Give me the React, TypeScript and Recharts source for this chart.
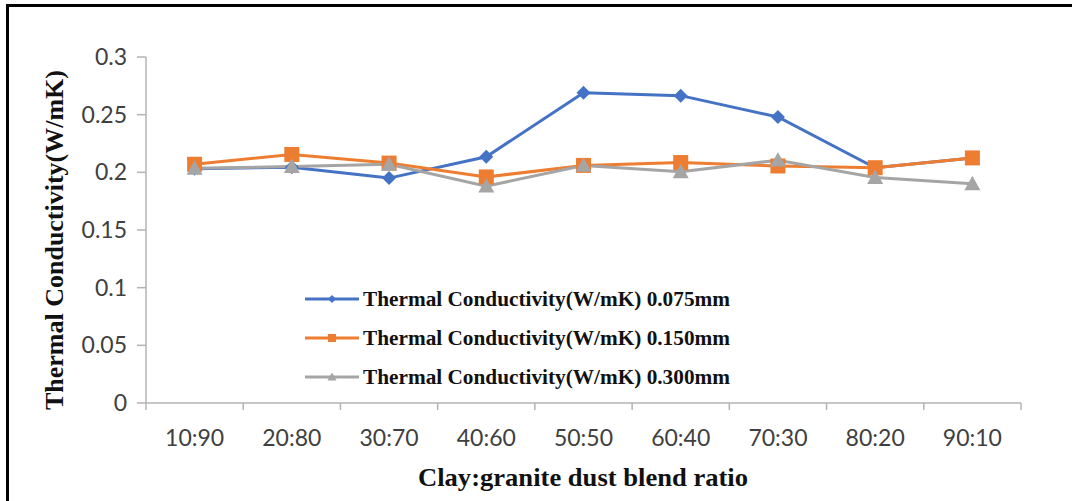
import React from 'react'
import { LineChart, Line, XAxis, YAxis, Legend, Label } from 'recharts'

const categories = ['10:90', '20:80', '30:70', '40:60', '50:50', '60:40', '70:30', '80:20', '90:10']
const tc075 = [0.203, 0.2045, 0.195, 0.2135, 0.269, 0.2665, 0.248, 0.204, 0.2125]
const tc150 = [0.207, 0.2155, 0.208, 0.196, 0.206, 0.2085, 0.2055, 0.204, 0.2125]
const tc300 = [0.2035, 0.205, 0.207, 0.188, 0.206, 0.2005, 0.2105, 0.1955, 0.19]
const seriesNames = [
  'Thermal Conductivity(W/mK) 0.075mm',
  'Thermal Conductivity(W/mK) 0.150mm',
  'Thermal Conductivity(W/mK) 0.300mm',
]
const yTicks = [0, 0.05, 0.1, 0.15, 0.2, 0.25, 0.3]

const BLUE = '#4472C4'
const ORANGE = '#ED7D31'
const GRAY = '#A5A5A5'
const AXIS = '#B3B3B3'
const SERIF = '"Liberation Serif", "Times New Roman", serif'
const SANS = 'Lato, "Open Sans", sans-serif'

// x sits in the middle of each category band, ticks go on the band edges
const data = categories.map((c, i) => ({
  cat: c,
  pos: i + 0.5,
  a: tc075[i],
  b: tc150[i],
  c: tc300[i],
}))
const xTicks = Array.from({ length: categories.length * 2 + 1 }, (_, i) => i / 2)

const Diamond = ({ cx, cy, r, fill }: any) => (
  <path d={`M${cx},${cy - r} L${cx + r},${cy} L${cx},${cy + r} L${cx - r},${cy} Z`} fill={fill} />
)
const Square = ({ cx, cy, r, fill }: any) => (
  <rect x={cx - r} y={cy - r} width={r * 2} height={r * 2} fill={fill} />
)
const Triangle = ({ cx, cy, r, fill }: any) => (
  <path d={`M${cx},${cy - r} L${cx + r},${cy + r * 0.8} L${cx - r},${cy + r * 0.8} Z`} fill={fill} />
)

const XTick = (props: any) => {
  const { x, y, payload } = props
  const v = payload.value
  if (Number.isInteger(v)) {
    return <line x1={x} x2={x} y1={y - 7} y2={y} stroke={AXIS} strokeWidth={1.5} />
  }
  return (
    <text x={x} y={y + 27} textAnchor="middle" dominantBaseline="central"
      fontFamily={SANS} fontSize={23} fill="#404040">
      {categories[Math.floor(v)]}
    </text>
  )
}

const legendItems = [
  { name: seriesNames[0], color: BLUE, Shape: Diamond, r: 4 },
  { name: seriesNames[1], color: ORANGE, Shape: Square, r: 4 },
  { name: seriesNames[2], color: GRAY, Shape: Triangle, r: 4.5 },
]

const LegendBox = () => (
  <div>
    {legendItems.map((it) => (
      <div key={it.name} style={{ display: 'flex', alignItems: 'center', height: 39 }}>
        <svg width={60} height={20}>
          <line x1={2} x2={56} y1={10} y2={10} stroke={it.color} strokeWidth={3} />
          <it.Shape cx={29} cy={10} r={it.r} fill={it.color} />
        </svg>
        <svg width={380} height={30}>
          <text x={0} y={15} dominantBaseline="central" fontFamily={SERIF} fontWeight="bold"
            fontSize={20} fill="#111" textLength={367} lengthAdjust="spacingAndGlyphs">
            {it.name}
          </text>
        </svg>
      </div>
    ))}
  </div>
)

export default function App() {
  return (
    <div style={{ position: 'absolute', left: 0, top: 0, width: 1072, height: 501, background: '#fff' }}>
      <div style={{ position: 'absolute', left: 6, top: 4, right: 0, bottom: 0,
        borderLeft: '3px solid #000', borderTop: '3px solid #000' }} />
      <div style={{ position: 'absolute', left: 0, top: 0 }}>
        <LineChart width={1072} height={501} data={data}
          margin={{ top: 57, right: 51, bottom: 0, left: 0 }}>
          <XAxis dataKey="pos" type="number" domain={[0, categories.length]} ticks={xTicks}
            interval={0} height={98} tickLine={false} tickSize={7} tickMargin={0}
            axisLine={{ stroke: AXIS, strokeWidth: 1.5 }} tick={<XTick />}>
            <Label content={() => (
              <text x={583} y={477} textAnchor="middle" dominantBaseline="central"
                fontFamily={SERIF} fontWeight="bold" fontSize={25} fill="#111"
                textLength={330} lengthAdjust="spacingAndGlyphs">
                Clay:granite dust blend ratio
              </text>
            )} />
          </XAxis>
          <YAxis type="number" domain={[0, 0.3]} ticks={yTicks} width={146} interval={0}
            tickSize={9} tickMargin={10} tickLine={{ stroke: AXIS, strokeWidth: 1.5 }}
            axisLine={{ stroke: AXIS, strokeWidth: 1.5 }}
            tickFormatter={(v: number) => String(+v.toFixed(2))}
            tick={{ fontFamily: SANS, fontSize: 23, fill: '#404040' }}>
            <Label content={() => (
              <text x={54} y={240} textAnchor="middle" dominantBaseline="central"
                transform="rotate(-90, 54, 240)" fontFamily={SERIF} fontWeight="bold"
                fontSize={25} fill="#111" textLength={340} lengthAdjust="spacingAndGlyphs">
                Thermal Conductivity(W/mK)
              </text>
            )} />
          </YAxis>
          <Legend content={<LegendBox />} layout="vertical" align="center" verticalAlign="middle"
            wrapperStyle={{ position: 'absolute', left: 303, top: 279, width: 460, bottom: 'auto' }} />
          <Line dataKey="a" name={seriesNames[0]} stroke={BLUE} strokeWidth={3}
            isAnimationActive={false}
            dot={(p: any) => <Diamond key={p.index} cx={p.cx} cy={p.cy} r={7} fill={BLUE} />} />
          <Line dataKey="b" name={seriesNames[1]} stroke={ORANGE} strokeWidth={3}
            isAnimationActive={false}
            dot={(p: any) => <Square key={p.index} cx={p.cx} cy={p.cy} r={7.5} fill={ORANGE} />} />
          <Line dataKey="c" name={seriesNames[2]} stroke={GRAY} strokeWidth={3}
            isAnimationActive={false}
            dot={(p: any) => <Triangle key={p.index} cx={p.cx} cy={p.cy} r={8} fill={GRAY} />} />
        </LineChart>
      </div>
    </div>
  )
}
